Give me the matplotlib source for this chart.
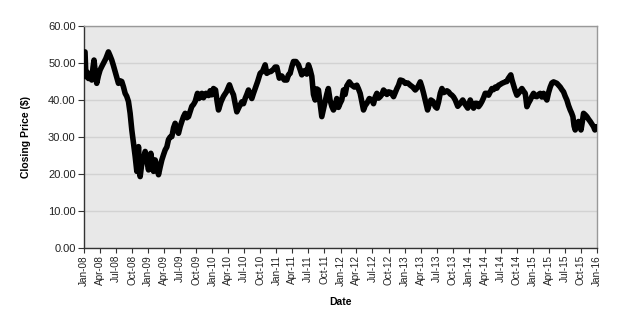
import matplotlib
matplotlib.use("Agg")
import matplotlib.pyplot as plt
import matplotlib.dates as mdates
import matplotlib.ticker as mticker
import pandas as pd
import numpy as np

# Fraction of each year (position in the year) and closing prices
t2008 = [0.000, 0.016, 0.030, 0.042, 0.070, 0.094, 0.120, 0.140, 0.156, 0.178,
         0.198, 0.225, 0.250, 0.275, 0.302, 0.340, 0.380, 0.405, 0.432, 0.460,
         0.484, 0.510, 0.536, 0.560, 0.588, 0.615, 0.640, 0.665, 0.692, 0.718,
         0.744, 0.770, 0.796, 0.822, 0.848, 0.874, 0.900, 0.925, 0.952, 0.978]
p2008 = [52.9, 53.0, 46.3, 47.6, 45.8, 47.2, 45.4, 48.8, 50.8, 47.0,
         44.5, 46.6, 48.1, 49.0, 49.9, 51.2, 53.0, 52.0, 50.8, 49.2,
         47.7, 46.0, 44.5, 45.2, 45.0, 43.5, 41.8, 41.0, 39.6, 36.4,
         31.9, 28.4, 24.8, 20.7, 27.4, 19.3, 22.9, 24.0, 26.1, 23.5]

t2009 = [0.004, 0.040, 0.082, 0.108, 0.135, 0.160, 0.185, 0.212, 0.238, 0.264,
         0.290, 0.316, 0.342, 0.368, 0.395, 0.420, 0.446, 0.472, 0.498, 0.524,
         0.550, 0.576, 0.602, 0.628, 0.655, 0.680, 0.706, 0.732, 0.768, 0.790,
         0.810, 0.836, 0.862, 0.900, 0.940, 0.966, 0.990]
p2009 = [21.1, 25.6, 20.7, 23.8, 22.0, 19.8, 21.8, 23.8, 25.2, 26.5,
         27.3, 29.3, 30.0, 30.1, 32.5, 33.7, 32.0, 31.0, 32.8, 34.2,
         35.5, 36.4, 35.2, 35.5, 37.0, 38.3, 38.8, 39.6, 41.8, 40.4,
         41.2, 41.8, 40.6, 41.8, 41.2, 42.5, 41.4]

t2010 = [0.018, 0.050, 0.075, 0.096, 0.135, 0.174, 0.220, 0.267, 0.300, 0.330,
         0.356, 0.382, 0.420, 0.460, 0.486, 0.512, 0.538, 0.564, 0.590, 0.616,
         0.642, 0.668, 0.707, 0.746, 0.785, 0.824, 0.850, 0.876, 0.915, 0.954,
         0.980]
p2010 = [43.1, 42.7, 39.5, 37.3, 39.5, 41.0, 42.2, 44.1, 42.5, 41.4,
         39.0, 36.8, 38.2, 39.5, 39.0, 40.4, 41.5, 42.7, 41.5, 40.4,
         41.8, 43.1, 45.0, 47.2, 47.8, 49.5, 47.2, 47.6, 47.7, 48.3,
         48.9]

t2011 = [0.006, 0.045, 0.084, 0.123, 0.162, 0.188, 0.214, 0.240, 0.266, 0.305,
         0.344, 0.370, 0.396, 0.422, 0.448, 0.474, 0.500, 0.526, 0.552, 0.578,
         0.604, 0.630, 0.656, 0.682, 0.708, 0.734, 0.760, 0.785, 0.810, 0.837,
         0.864, 0.890, 0.916, 0.942, 0.968, 0.994]
p2011 = [48.9, 45.9, 46.5, 45.4, 45.4, 46.8, 47.2, 49.0, 50.4, 50.4,
         49.5, 48.2, 46.8, 47.7, 48.0, 47.0, 49.5, 48.2, 46.4, 41.5,
         40.0, 43.0, 42.7, 39.0, 35.5, 37.5, 39.5, 41.5, 43.1, 40.0,
         38.3, 37.3, 38.5, 40.4, 38.0, 39.1]

t2012 = [0.020, 0.046, 0.072, 0.098, 0.137, 0.176, 0.215, 0.254, 0.280, 0.306,
         0.332, 0.358, 0.384, 0.410, 0.449, 0.488, 0.514, 0.540, 0.566, 0.592,
         0.618, 0.644, 0.670, 0.696, 0.722, 0.748, 0.787, 0.826, 0.852, 0.878,
         0.904, 0.930, 0.969]
p2012 = [40.0, 42.7, 41.5, 43.8, 44.9, 44.0, 43.5, 44.0, 43.0, 41.8,
         39.5, 37.3, 38.5, 39.1, 40.4, 40.0, 39.0, 40.8, 41.8, 40.5,
         40.9, 41.5, 42.7, 42.2, 41.5, 42.2, 42.0, 40.9, 42.0, 43.1,
         44.0, 45.4, 45.2]

t2013 = [0.008, 0.047, 0.086, 0.125, 0.164, 0.203, 0.242, 0.268, 0.294, 0.325,
         0.356, 0.382, 0.408, 0.442, 0.476, 0.502, 0.528, 0.554, 0.580, 0.606,
         0.632, 0.658, 0.684, 0.710, 0.736, 0.762, 0.788, 0.827, 0.866, 0.905,
         0.944, 0.983]
p2013 = [44.5, 44.6, 44.0, 43.5, 42.7, 43.5, 44.9, 43.5, 41.8, 39.5,
         37.3, 38.8, 40.0, 39.6, 38.2, 37.8, 39.5, 41.8, 43.1, 42.0,
         42.2, 42.5, 42.2, 41.6, 41.3, 40.8, 40.0, 38.3, 39.1, 40.0,
         38.8, 37.8]

t2014 = [0.022, 0.048, 0.074, 0.100, 0.126, 0.152, 0.178, 0.204, 0.230, 0.256,
         0.282, 0.308, 0.334, 0.360, 0.386, 0.412, 0.438, 0.464, 0.490, 0.516,
         0.542, 0.568, 0.594, 0.615, 0.636, 0.655, 0.672, 0.698, 0.724, 0.750,
         0.776, 0.802, 0.828, 0.854, 0.880, 0.906, 0.932, 0.958, 0.984]
p2014 = [40.0, 38.8, 37.8, 39.1, 39.1, 38.2, 38.8, 39.6, 40.6, 41.8,
         41.8, 41.3, 42.2, 43.1, 42.8, 43.5, 43.2, 44.0, 44.2, 44.5,
         44.7, 44.9, 45.0, 45.8, 46.3, 46.8, 45.5, 44.0, 42.5, 41.3,
         41.8, 42.5, 43.1, 42.4, 41.8, 38.2, 39.2, 40.0, 41.0]

t2015 = [0.010, 0.036, 0.062, 0.088, 0.114, 0.140, 0.166, 0.192, 0.218, 0.244,
         0.270, 0.296, 0.322, 0.348, 0.374, 0.400, 0.426, 0.452, 0.478, 0.504,
         0.530, 0.556, 0.582, 0.603, 0.624, 0.642, 0.660, 0.686, 0.712, 0.731,
         0.750, 0.770, 0.790, 0.816, 0.842, 0.868, 0.894, 0.920, 0.946, 0.967,
         0.988, 1.000]
p2015 = [41.8, 41.0, 40.9, 41.5, 41.8, 40.8, 41.8, 40.8, 40.0, 42.0,
         43.5, 44.6, 44.9, 44.7, 44.5, 44.0, 43.5, 42.8, 42.2, 41.0,
         40.0, 38.5, 37.3, 36.5, 35.5, 33.0, 31.9, 33.5, 34.2, 33.0,
         31.9, 34.0, 36.4, 36.0, 35.5, 34.8, 34.2, 33.5, 32.8, 31.9,
         32.5, 32.8]

y_ticks = [0, 10, 20, 30, 40, 50, 60]

segments = [(2008, t2008, p2008), (2009, t2009, p2009), (2010, t2010, p2010),
            (2011, t2011, p2011), (2012, t2012, p2012), (2013, t2013, p2013),
            (2014, t2014, p2014), (2015, t2015, p2015)]


def to_datetime(year, frac):
    start = pd.Timestamp(year=year, month=1, day=1)
    end = pd.Timestamp(year=year + 1, month=1, day=1)
    return start + (end - start) * frac


dates = []
prices = []
for yr, ts, ps in segments:
    n = min(len(ts), len(ps))
    dates += [to_datetime(yr, f) for f in ts[:n]]
    prices += ps[:n]

fig = plt.figure(figsize=(6.21, 3.20), dpi=100)
ax = fig.add_axes([84 / 621, 72 / 320, 513 / 621, 222 / 320])
ax.set_facecolor("#E8E8E8")

ax.plot(dates, prices, color="black", linewidth=4.0, solid_joinstyle="round",
        solid_capstyle="round", zorder=3)

ax.set_xlim(pd.Timestamp("2008-01-01"), pd.Timestamp("2016-01-01"))
ax.set_ylim(0, 60)
ax.set_yticks(y_ticks)
ax.yaxis.set_major_formatter(mticker.FormatStrFormatter("%.2f"))
ax.grid(axis="y", color="#D2D2D2", linewidth=1.0, zorder=1)
ax.set_axisbelow(True)

ax.xaxis.set_major_locator(mdates.MonthLocator(bymonth=[1, 4, 7, 10]))
ax.xaxis.set_major_formatter(mdates.DateFormatter("%b-%y"))

for lab in ax.get_xticklabels():
    lab.set_rotation(90)

font = "Liberation Sans"
ax.tick_params(axis="x", labelsize=7.2, length=3.5, width=0.8, color="#333333",
               labelcolor="#222222", direction="out", pad=1.5)
ax.tick_params(axis="y", labelsize=8, length=4, width=0.8, color="#333333",
               labelcolor="#222222", direction="out", pad=2)
for lab in ax.get_xticklabels() + ax.get_yticklabels():
    lab.set_fontfamily(font)

for side in ["left", "bottom"]:
    ax.spines[side].set_color("#333333")
    ax.spines[side].set_linewidth(1.0)
for side in ["top", "right"]:
    ax.spines[side].set_color("#999999")
    ax.spines[side].set_linewidth(1.0)

ax.set_ylabel("Closing Price ($)", fontsize=7.5, fontweight="bold", family=font,
              labelpad=12)
ax.set_xlabel("Date", fontsize=7.5, fontweight="bold", family=font, labelpad=8)

fig.savefig("out.png", dpi=100, facecolor="white")
